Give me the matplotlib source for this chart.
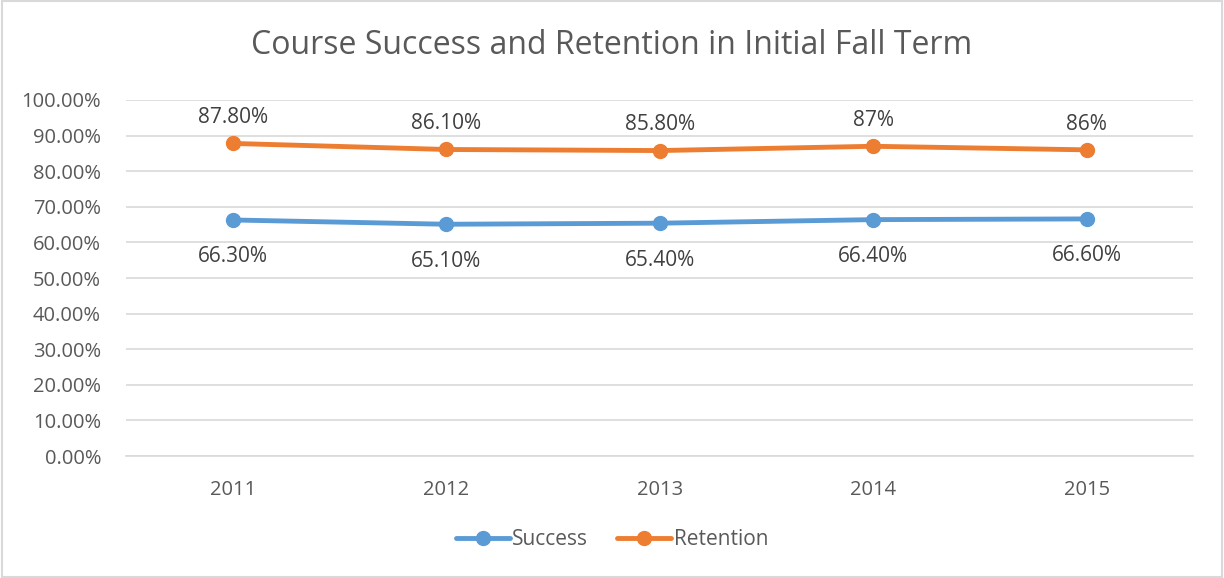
import matplotlib.pyplot as plt
from matplotlib.ticker import PercentFormatter

years = ["2011", "2012", "2013", "2014", "2015"]
success = [66.3, 65.1, 65.4, 66.4, 66.6]
retention = [87.8, 86.1, 85.8, 87.0, 86.0]
success_labels = ["66.30%", "65.10%", "65.40%", "66.40%", "66.60%"]
retention_labels = ["87.80%", "86.10%", "85.80%", "87%", "86%"]

blue = "#5B9BD5"
orange = "#ED7D31"
grey = "#595959"

plt.rcParams["font.family"] = ["Open Sans", "DejaVu Sans"]

fig = plt.figure(figsize=(12.24, 5.78), dpi=100)
ax = fig.add_axes([0.103, 0.211, 0.872, 0.616])

x = list(range(len(years)))
ax.plot(x, success, color=blue, lw=3.5, marker="o", ms=10, label="Success", solid_capstyle="round")
ax.plot(x, retention, color=orange, lw=3.5, marker="o", ms=10, label="Retention", solid_capstyle="round")

# data labels: retention above the line, success below
for i in x:
    ax.annotate(retention_labels[i], (i, retention[i]), xytext=(0, 11), textcoords="offset points",
                ha="center", va="bottom", fontsize=15, color="#404040")
    ax.annotate(success_labels[i], (i, success[i]), xytext=(0, -19), textcoords="offset points",
                ha="center", va="top", fontsize=15, color="#404040")

ax.set_xlim(-0.5, 4.5)
ax.set_ylim(0, 100)
ax.set_xticks(x)
ax.set_xticklabels(years)
ax.set_yticks(range(0, 101, 10))
ax.yaxis.set_major_formatter(PercentFormatter(decimals=2))
ax.grid(axis="y", color="#D9D9D9", lw=1.2)
ax.set_axisbelow(True)
for s in ["top", "right", "left"]:
    ax.spines[s].set_visible(False)
ax.spines["bottom"].set_color("#D9D9D9")
ax.spines["bottom"].set_linewidth(1.2)
ax.tick_params(axis="both", length=0, labelsize=14.5, colors=grey)
ax.tick_params(axis="y", pad=18)
ax.tick_params(axis="x", pad=17)

fig.text(0.5, 0.921, "Course Success and Retention in Initial Fall Term", ha="center", va="center",
         fontsize=23, color=grey)

fig.legend(loc="center", bbox_to_anchor=(0.5, 0.066), ncol=2, frameon=False, fontsize=15,
           labelcolor=grey, handlelength=2.6, handletextpad=0.1, columnspacing=1.4)

fig.patches.append(plt.Rectangle((0.002, 0.002), 0.996, 0.996, transform=fig.transFigure,
                                 fill=False, edgecolor="#D9D9D9", lw=1.5))

fig.savefig("out.png", dpi=100)
